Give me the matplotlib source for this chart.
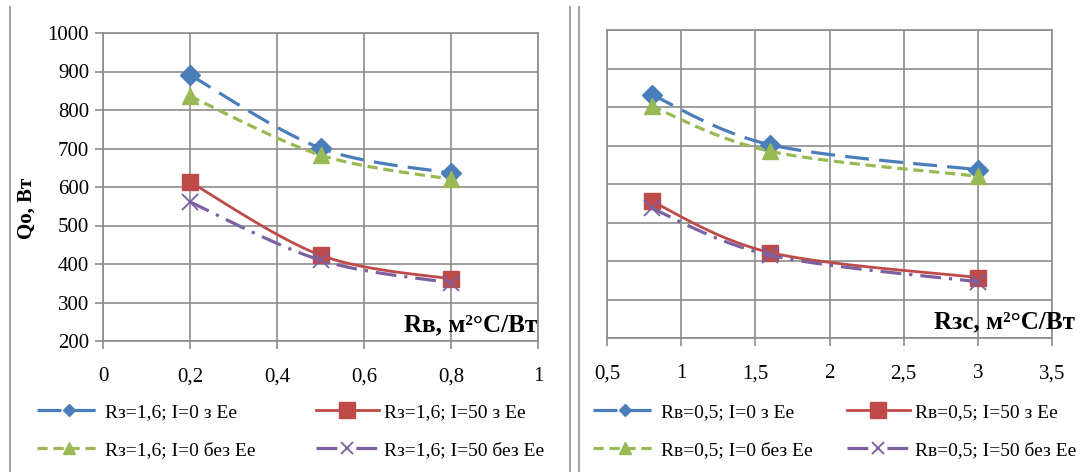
import numpy as np
import matplotlib
matplotlib.use('Agg')
import matplotlib.pyplot as plt
from matplotlib.lines import Line2D

plt.rcParams['font.family'] = ['Liberation Serif', 'DejaVu Serif']

# ліва панель: залежність від Rв
rv = [0.2, 0.5, 0.8]
left_i0_ee = [891, 701, 636]
left_i50_ee = [613, 423, 361]
left_i0_no = [836, 683, 620]
left_i50_no = [561, 410, 351]
left_names = ['Rз=1,6; I=0 з Ee', 'Rз=1,6; I=50 з Ee',
              'Rз=1,6; I=0 без Ee', 'Rз=1,6; I=50 без Ee']

# права панель: залежність від Rзс
rzs = [0.8, 1.6, 3.0]
right_i0_ee = [832, 702, 637]
right_i50_ee = [555, 422, 357]
right_i0_no = [802, 685, 620]
right_i50_no = [537, 415, 346]
right_names = ['Rв=0,5; I=0 з Ee', 'Rв=0,5; I=50 з Ee',
               'Rв=0,5; I=0 без Ee', 'Rв=0,5; I=50 без Ee']

BLUE = '#4A7EBB'
RED = '#BE4B48'
GREEN = '#98B954'
PURPLE = '#7D60A0'
GRID = '#8c8c8c'

styles = [
    dict(color=BLUE, marker='D', ms=10, lw=2.3, dashes=(7.5, 3.2)),
    dict(color=RED, marker='s', ms=12, lw=2.0, ls='-'),
    dict(color=GREEN, marker='^', ms=12, lw=2.3, dashes=(3.2, 1.8)),
    dict(color=PURPLE, marker='x', ms=11, lw=2.3, mew=1.3, dashes=(6.5, 2.5, 1, 2.5)),
]
leg_ms = [6, 11, 8, 9]


def smooth(x, y, xr, yr, n=40):
    # згладжування як в Excel (Catmull-Rom через Безьє)
    p = np.column_stack([(np.array(x) - xr[0]) / (xr[1] - xr[0]),
                         (np.array(y) - yr[0]) / (yr[1] - yr[0])])
    out = []
    t = np.linspace(0, 1, n)[:, None]
    for i in range(len(p) - 1):
        p0 = p[i - 1] if i > 0 else p[i]
        p3 = p[i + 2] if i + 2 < len(p) else p[i + 1]
        c1 = p[i] + (p[i + 1] - p0) / 6
        c2 = p[i + 1] - (p3 - p[i]) / 6
        seg = ((1 - t) ** 3) * p[i] + 3 * ((1 - t) ** 2) * t * c1 \
            + 3 * (1 - t) * t ** 2 * c2 + t ** 3 * p[i + 1]
        out.append(seg)
    q = np.vstack(out)
    return q[:, 0] * (xr[1] - xr[0]) + xr[0], q[:, 1] * (yr[1] - yr[0]) + yr[0]


fig = plt.figure(figsize=(10.86, 4.72), dpi=100)

# рамки як на скриншоті
fig.add_artist(Line2D([10 / 1086, 10 / 1086], [0, 1 - 7 / 472], color='#a6a6a6', lw=1.5))
fig.add_artist(Line2D([570 / 1086, 570 / 1086], [0, 1 - 7 / 472], color='#a6a6a6', lw=1.5))
fig.add_artist(Line2D([579 / 1086, 579 / 1086], [0, 1 - 7 / 472], color='#a6a6a6', lw=1.5))

ax1 = fig.add_axes([103 / 1086, 1 - 341 / 472, 435 / 1086, 308 / 472])
ax2 = fig.add_axes([607 / 1086, 1 - 338 / 472, 445 / 1086, 308 / 472])


def draw(ax, x, series, names, xr, xticks, xlabels, show_y):
    handles = []
    for ys, st, nm, lms in zip(series, styles, names, leg_ms):
        st = dict(st)
        marker = st.pop('marker')
        ms = st.pop('ms')
        mew = st.pop('mew', 1)
        sx, sy = smooth(x, ys, xr, (200, 1000))
        ax.plot(sx, sy, solid_capstyle='butt', dash_capstyle='butt', **st)
        ax.plot(x, ys, ls='none', marker=marker, ms=ms, color=st['color'], mew=mew)
        handles.append(Line2D([], [], marker=marker, ms=lms, mew=mew, **st))
    ax.set_xlim(*xr)
    ax.set_ylim(200, 1000)
    ax.set_xticks(xticks)
    ax.set_xticklabels(xlabels)
    ax.set_yticks(range(200, 1001, 100))
    ax.grid(True, color=GRID, lw=1.2)
    ax.set_axisbelow(True)
    for s in ax.spines.values():
        s.set_color(GRID)
        s.set_linewidth(1.2)
    ax.tick_params(axis='x', direction='out', length=6, width=1.2, color=GRID,
                   pad=13, labelsize=15)
    if show_y:
        ax.tick_params(axis='y', direction='out', length=6, width=1.2, color=GRID,
                       pad=4, labelsize=15)
    else:
        ax.tick_params(axis='y', length=0, labelleft=False)
    return handles


h1 = draw(ax1, rv, [left_i0_ee, left_i50_ee, left_i0_no, left_i50_no], left_names,
          (0, 1), [0, 0.2, 0.4, 0.6, 0.8, 1], ['0', '0,2', '0,4', '0,6', '0,8', '1'], True)
h2 = draw(ax2, rzs, [right_i0_ee, right_i50_ee, right_i0_no, right_i50_no], right_names,
          (0.5, 3.5), [0.5, 1, 1.5, 2, 2.5, 3, 3.5],
          ['0,5', '1', '1,5', '2', '2,5', '3', '3,5'], False)

fig.text(27 / 1086, 1 - 208 / 472, 'Qo, Вт', rotation=90, ha='center', va='center',
         fontsize=15, fontweight='bold')
fig.text(537 / 1086, 1 - 325 / 472, 'Rв, м²°C/Вт', ha='right', va='center',
         fontsize=18, fontweight='bold')
fig.text(1075 / 1086, 1 - 322 / 472, 'Rзс, м²°C/Вт', ha='right', va='center',
         fontsize=18, fontweight='bold')

for ax, h, names, x0, cs in [(ax1, h1, left_names, 37, 3.1), (ax2, h2, right_names, 593, 1.75)]:
    order = [0, 2, 1, 3]
    ax.legend([h[i] for i in order], [names[i] for i in order], ncol=2,
              loc='upper left', bbox_to_anchor=(x0 / 1086, 1 - 403 / 472),
              bbox_transform=fig.transFigure, frameon=False, fontsize=14,
              handlelength=3.25, handletextpad=0.25, columnspacing=cs,
              labelspacing=1.05, borderaxespad=0, borderpad=0)

fig.savefig('out.png', dpi=100)
